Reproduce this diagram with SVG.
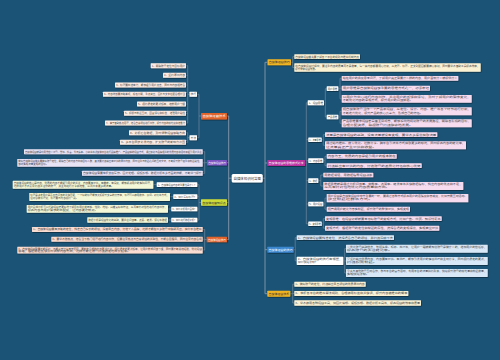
<svg xmlns="http://www.w3.org/2000/svg" width="500" height="360" viewBox="0 0 500 360">
<defs>
<filter id="sh" x="-10%" y="-30%" width="120%" height="180%"><feDropShadow dx="0.5" dy="0.7" stdDeviation="0.35" flood-color="#000" flood-opacity="0.5"/></filter>
</defs>
<style>
text{font-family:"Noto Sans CJK SC","Noto Sans",sans-serif;}
.lf{font-size:2.3px;fill:#444;}
.bt{font-size:2.8px;fill:#fff;}
.bd{font-size:2.8px;fill:#333;}
rect{filter:url(#sh);}
.w{fill:#fff;}
.o{fill:#fcebe2;}
.p{fill:#e8e2f5;}
.g{fill:#f5f8d7;}
.r{fill:#fbdcd0;}
.y{fill:#fbf1d3;}
.m{fill:#f7dbee;}
.b{fill:#d9e8f6;}
.tr{fill:none;stroke:#7d92a5;stroke-width:1;}
.cn{fill:none;stroke:#7d92a5;stroke-width:0.6;}
</style>
<rect x="0" y="0" width="500" height="360" fill="#1b5376" style="filter:none"/>

<g id="connectors">
<path class="tr" d="M231.7,178.2 H228.7 M228.7,116 V239.5 M228.7,116 H227 M228.7,162.7 H227 M228.7,202.5 H227 M228.7,239.5 H227"/>
<path class="tr" d="M262.7,178.2 H265 M265,62.3 V293.7 M265,62.3 H267.3 M265,163 H267.3 M265,249.7 H267.3 M265,293.7 H267.3"/>
<path class="cn" d="M201,116 H199 M199,94.3 V137.7 M199,94.3 H197 M199,137.7 H197"/>
<path class="cn" d="M189.5,94.3 H187.7 M187.7,65.7 V123 M187.7,65.7 H186 M187.7,75.3 H186 M187.7,85 H186 M187.7,104 H186 M187.7,113.3 H186 M187.7,123 H186"/>
<path class="cn" d="M189.5,137.7 H187.7 M187.7,132.7 V142.3 H186 M187.7,132.7 H186"/>
<path class="cn" d="M207,162.7 H204.7 M204.7,151.7 V173.3 H202.7 M204.7,151.7 H202.7 M204.7,162.8 H202.7"/>
<path class="cn" d="M201,202.5 H199 M199,184.6 V220 M199,184.6 H197.3 M199,196.7 H197.3 M199,209 H197.3 M199,220 H197.3"/>
<path class="cn" d="M156.7,184.6 H153.3 M173.3,196.7 H170 M171.3,209 H168 M171.3,220 H168"/>
<path class="cn" d="M206.7,239.5 H204.7 M204.7,229.5 V250 M204.7,229.5 H202.7 M204.7,239.2 H202.7 M204.7,250 H202.7"/>
<path class="cn" d="M291,62.3 H292.7 M292.7,56.7 V67.5 M292.7,56.7 H294.3 M292.7,67.5 H294.3"/>
<path class="cn" d="M305,163 H306.3 M306.3,102.8 V223.8 M306.3,102.8 H307.7 M306.3,139.7 H308.3 M306.3,160.7 H308.3 M306.3,180.7 H308.3 M306.3,204 H308.3 M306.3,223.8 H308.3"/>
<path class="cn" d="M324,102.8 H325.3 M325.3,88.7 V117 M325.3,88.7 H326.7 M325.3,117 H326.7"/>
<path class="cn" d="M338.3,88.7 H340 M340,78.3 V98.8 M340,78.3 H341.7 M340,88.2 H341.7 M340,98.8 H341.7"/>
<path class="cn" d="M338.3,117 H340 M340,111.3 V123.3 M340,111.3 H341.7 M340,123.3 H341.7"/>
<path class="cn" d="M321.7,139.7 H323.3 M323.3,134.7 V145.3 H325 M323.3,134.7 H325"/>
<path class="cn" d="M323.3,160.7 H325 M325,156.3 V165.7 H326.7 M325,156.3 H326.7"/>
<path class="cn" d="M318.3,180.7 H320.8 M320.8,175 V186 H323.3 M320.8,175 H323.3"/>
<path class="cn" d="M323.3,204 H325 M325,198 V209.2 H326.7 M325,198 H326.7"/>
<path class="cn" d="M321.7,223.8 H323.3 M323.3,218.7 V228.2 H325 M323.3,218.7 H325"/>
<path class="cn" d="M293.7,249.7 H295.2 M295.2,237.7 V260.8 M295.2,237.7 H296.7 M295.2,260.8 H296.7"/>
<path class="cn" d="M343.3,260.8 H344.7 M344.7,248.7 V273 M344.7,248.7 H346 M344.7,261 H346 M344.7,273 H346"/>
<path class="cn" d="M290.3,293.7 H292.7 M292.7,284.2 V303 M292.7,284.2 H294.3 M292.7,293.5 H294.3 M292.7,303 H294.3"/>
</g>

<g id="center">
<rect x="231.7" y="174" width="31" height="8.5" rx="1.5" fill="#fff"/>
<text x="233.5" y="179.6" style="font-size:3.2px;fill:#333" textLength="27.4" lengthAdjust="spacingAndGlyphs">自媒体知识问答图</text>
</g>

<!-- LEFT: orange top -->
<g id="L1">
<rect x="201" y="113" width="26" height="6.4" rx="0.6" fill="#e2632b"/>
<text class="bt" x="202.5" y="117.2" textLength="23" lengthAdjust="spacingAndGlyphs">自媒体运营技术</text>
</g>
<g id="L1a"><rect class="w" x="189.5" y="91.8" width="7.5" height="5" rx="0.4"/><text class="lf" x="190.5" y="95.1" textLength="5.5" lengthAdjust="spacingAndGlyphs">技巧</text></g>
<g id="L1b"><rect class="w" x="189.5" y="135.2" width="7.5" height="5" rx="0.4"/><text class="lf" x="190.5" y="138.5" textLength="5.5" lengthAdjust="spacingAndGlyphs">方法</text></g>
<g id="L1a1"><rect class="o" x="150.7" y="63.2" width="35.3" height="5" rx="0.4"/><text class="lf" x="151.7" y="66.5" textLength="33.3" lengthAdjust="spacingAndGlyphs">1、明确账号定位与目标用户</text></g>
<g id="L1a2"><rect class="o" x="163" y="72.8" width="23" height="5" rx="0.4"/><text class="lf" x="164" y="76.1" textLength="21" lengthAdjust="spacingAndGlyphs">2、坚持原创内容</text></g>
<g id="L1a3"><rect class="o" x="115" y="82.5" width="71" height="5" rx="0.4"/><text class="lf" x="116" y="85.8" textLength="69" lengthAdjust="spacingAndGlyphs">3、标题要简洁有力，能够吸引用户点击，同时与内容相符合</text></g>
<g id="L1a4"><rect class="o" x="103" y="91.8" width="83" height="5" rx="0.4"/><text class="lf" x="104" y="95.1" textLength="81" lengthAdjust="spacingAndGlyphs">4、内容排版要清晰美观，段落分明，重点突出，图片与文字搭配合理得当</text></g>
<g id="L1a5"><rect class="o" x="137" y="101.5" width="49" height="5" rx="0.4"/><text class="lf" x="138" y="104.8" textLength="47" lengthAdjust="spacingAndGlyphs">5、保持稳定的更新频率，培养用户习惯</text></g>
<g id="L1a6"><rect class="o" x="124" y="110.8" width="62" height="5" rx="0.4"/><text class="lf" x="125" y="114.1" textLength="60" lengthAdjust="spacingAndGlyphs">6、积极与粉丝互动，回复评论和私信，增强用户粘性</text></g>
<g id="L1a7"><rect class="o" x="105" y="120.5" width="81" height="5" rx="0.4"/><text class="lf" x="106" y="123.8" textLength="79" lengthAdjust="spacingAndGlyphs">7、善于借助热点话题，结合自身领域进行创作，提升内容的曝光度和传播力</text></g>
<g id="L1b1"><rect class="o" x="129" y="130.2" width="57" height="5" rx="0.4"/><text class="lf" x="130" y="133.5" textLength="55" lengthAdjust="spacingAndGlyphs">8、分析后台数据，及时调整运营策略方向</text></g>
<g id="L1b2"><rect class="o" x="120" y="139.8" width="66" height="5" rx="0.4"/><text class="lf" x="121" y="143.1" textLength="64" lengthAdjust="spacingAndGlyphs">9、多平台同步分发内容，扩大账号的影响力范围</text></g>

<!-- LEFT: purple -->
<g id="P">
<rect x="207" y="160" width="20" height="5.5" rx="0.6" fill="#7b52c1"/>
<text class="bt" x="208.2" y="163.7" style="font-size:2.5px" textLength="17.6" lengthAdjust="spacingAndGlyphs">自媒体运营技巧</text>
</g>
<g id="P1"><rect class="p" x="24" y="149.2" width="178.7" height="5" rx="0.4"/><text class="lf" x="25" y="152.5" textLength="176.7" lengthAdjust="spacingAndGlyphs">自媒体运营就是利用微信公众号、微博、抖音、今日头条、小红书等新媒体平台进行品牌推广、产品营销的运营方式，通过策划与品牌相关的优质内容和活动来吸引用户关注</text></g>
<g id="P2"><rect class="p" x="17.3" y="159" width="185.4" height="7.7" rx="0.4"/><text class="lf" x="18.3" y="162.1" textLength="183.4" lengthAdjust="spacingAndGlyphs">做好自媒体运营首先要做好账号定位，明确自己的内容方向和目标人群，其次要持续输出有价值的原创内容，同时注重与粉丝之间的互动交流，不断提升账号权重和粉丝粘性，</text><text class="lf" x="18.3" y="165.2" textLength="30" lengthAdjust="spacingAndGlyphs">最终实现流量变现的目标。</text></g>
<g id="P3"><rect class="p" x="82" y="170.8" width="120.7" height="5" rx="0.4"/><text class="lf" x="83" y="174.1" textLength="118.7" lengthAdjust="spacingAndGlyphs">自媒体运营需要掌握文案写作、图片处理、视频剪辑、数据分析等多方面的技能，不断学习提升</text></g>

<!-- LEFT: lime -->
<g id="G">
<rect x="201" y="199.3" width="26" height="6.4" rx="0.6" fill="#cddc39"/>
<text class="bd" x="202.3" y="203.5" textLength="23.4" lengthAdjust="spacingAndGlyphs">自媒体运营知识点</text>
</g>
<g id="Ga"><rect class="w" x="156.7" y="182.3" width="40.6" height="4.7" rx="0.4"/><text class="lf" x="157.7" y="185.5" textLength="38.6" lengthAdjust="spacingAndGlyphs">1、自媒体运营内容的重要性是什么？</text></g>
<g id="Gb"><rect class="w" x="173.3" y="194.3" width="24" height="4.7" rx="0.4"/><text class="lf" x="174.3" y="197.5" textLength="22" lengthAdjust="spacingAndGlyphs">2、如何写好标题？</text></g>
<g id="Gc"><rect class="w" x="171.3" y="206.7" width="26" height="4.6" rx="0.4"/><text class="lf" x="172.3" y="209.9" textLength="24" lengthAdjust="spacingAndGlyphs">3、如何分析用户画像？</text></g>
<g id="Gd"><rect class="w" x="171.3" y="217.7" width="26" height="4.6" rx="0.4"/><text class="lf" x="172.3" y="220.9" textLength="24" lengthAdjust="spacingAndGlyphs">4、如何进行数据分析？</text></g>
<g id="Ga1"><rect class="g" x="12.7" y="180.7" width="140.6" height="8" rx="0.4"/><text class="lf" x="13.7" y="183.8" textLength="138.6" lengthAdjust="spacingAndGlyphs">自媒体运营的核心是内容，优质的内容才能吸引用户的关注，内容要有价值、有趣味、有深度，能够解决用户的实际问题，</text><text class="lf" x="13.7" y="186.9" textLength="100" lengthAdjust="spacingAndGlyphs">这样用户才会愿意持续关注你的账号，并主动进行分享和传播，从而带来更多的流量。</text></g>
<g id="Gb1"><rect class="g" x="29.3" y="193" width="140.7" height="8" rx="0.4"/><text class="lf" x="30.3" y="196.1" textLength="138.7" lengthAdjust="spacingAndGlyphs">标题是决定用户是否点击阅读的关键因素，一个好的标题能够大幅提升文章的打开率，标题可以使用数字、疑问、对比等方式，</text><text class="lf" x="30.3" y="199.2" textLength="48" lengthAdjust="spacingAndGlyphs">但切忌做标题党，标题要与内容保持一致。</text></g>
<g id="Gc1"><rect class="g" x="26.7" y="205" width="141.3" height="7.7" rx="0.4"/><text class="lf" x="27.7" y="208.1" textLength="139.3" lengthAdjust="spacingAndGlyphs">用户画像分析可以帮助运营者更好地了解目标用户的年龄、性别、地域、兴趣爱好等特征，从而有针对性地进行内容创作，</text><text class="lf" x="27.7" y="211.2" textLength="70" lengthAdjust="spacingAndGlyphs">提高内容与用户需求的匹配度，让内容更受欢迎。</text></g>
<g id="Gd1"><rect class="g" x="87.3" y="217.3" width="80.7" height="5.4" rx="0.4"/><text class="lf" x="88.3" y="220.8" textLength="78.7" lengthAdjust="spacingAndGlyphs">数据分析是运营优化的基础，要关注阅读量、点赞、转发、评论等数据</text></g>

<!-- LEFT: orange-red -->
<g id="R">
<rect x="206.7" y="236.7" width="20.3" height="5.6" rx="0.6" fill="#e2632b"/>
<text class="bt" x="207.9" y="240.5" style="font-size:2.5px" textLength="17.9" lengthAdjust="spacingAndGlyphs">自媒体运营技巧</text>
</g>
<g id="R1"><rect class="r" x="32" y="227" width="170.7" height="5" rx="0.4"/><text class="lf" x="33" y="230.3" textLength="168.7" lengthAdjust="spacingAndGlyphs">1、自媒体运营要有清晰的定位，找准自己擅长的领域，深耕垂直内容，打造个人品牌，这样才能在众多账号中脱颖而出，获得平台推荐</text></g>
<g id="R2"><rect class="r" x="51.3" y="236.7" width="151.4" height="5" rx="0.4"/><text class="lf" x="52.3" y="240" textLength="149.4" lengthAdjust="spacingAndGlyphs">2、要学会蹭热点，结合当下热门话题进行内容创作，但要注意热点与自身领域的关联性，不能盲目跟风，同时注意内容合规</text></g>
<g id="R3"><rect class="r" x="17.3" y="246.7" width="185.4" height="6.8" rx="0.4"/><text class="lf" x="18.3" y="249.5" textLength="183.4" lengthAdjust="spacingAndGlyphs">3、自媒体运营需要长期坚持，不能三天打鱼两天晒网，要制定合理的内容更新计划，保持稳定的更新频率，让用户养成阅读习惯，同时要不断总结经验，优化运营</text><text class="lf" x="18.3" y="252.4" textLength="112" lengthAdjust="spacingAndGlyphs">策略，根据数据反馈及时调整内容方向，这样才能让账号持续稳定地成长起来。</text></g>

<!-- RIGHT: top yellow -->
<g id="Y1">
<rect x="267.5" y="59.3" width="23.5" height="6" rx="0.6" fill="#f0b323"/>
<text class="bd" x="268.8" y="63.3" style="font-size:2.6px" textLength="20.9" lengthAdjust="spacingAndGlyphs">自媒体运营技巧</text>
</g>
<g id="Y1a"><rect class="y" x="294.3" y="54.3" width="65.7" height="4.7" rx="0.4"/><text class="lf" x="295.3" y="57.5" textLength="63.7" lengthAdjust="spacingAndGlyphs">自媒体运营首先要了解各个平台的规则与推荐机制特点</text></g>
<g id="Y1b"><rect class="y" x="294.3" y="63.3" width="186.4" height="8.4" rx="0.4"/><text class="lf" x="295.3" y="66.5" textLength="184.4" lengthAdjust="spacingAndGlyphs">在自媒体运营过程中，要注重内容的质量而不是数量，每一篇内容都要用心打磨，从选题、标题、正文到配图都要精心策划，同时要学会借助工具提高效率，</text><text class="lf" x="295.3" y="69.7" textLength="22" lengthAdjust="spacingAndGlyphs">提升整体运营效果。</text></g>

<!-- RIGHT: magenta -->
<g id="M">
<rect x="267.3" y="160" width="37.7" height="6" rx="0.6" fill="#b8329e"/>
<text class="bt" x="268.6" y="164" style="font-size:2.6px" textLength="35.1" lengthAdjust="spacingAndGlyphs">自媒体运营的思维模式分享</text>
</g>
<g id="M1"><rect class="w" x="307.7" y="100.3" width="16.3" height="5" rx="0.4"/><text class="lf" x="308.7" y="103.6" textLength="14.3" lengthAdjust="spacingAndGlyphs">1、运营思维</text></g>
<g id="M1a"><rect class="w" x="326.7" y="86.3" width="11.6" height="4.7" rx="0.4"/><text class="lf" x="327.7" y="89.5" textLength="9.6" lengthAdjust="spacingAndGlyphs">用户思维</text></g>
<g id="M1b"><rect class="w" x="326.7" y="114.7" width="11.6" height="4.6" rx="0.4"/><text class="lf" x="327.7" y="117.9" textLength="9.6" lengthAdjust="spacingAndGlyphs">产品思维</text></g>
<g id="M1a1"><rect class="m" x="341.7" y="76" width="116.6" height="4.7" rx="0.4"/><text class="lf" x="342.7" y="79.2" textLength="114.6" lengthAdjust="spacingAndGlyphs">站在用户的角度思考问题，了解用户真正需要什么样的内容，用户喜欢什么就提供什么</text></g>
<g id="M1a2"><rect class="m" x="341.7" y="85.7" width="88.3" height="5" rx="0.4"/><text class="lf" x="342.7" y="89" textLength="86.3" lengthAdjust="spacingAndGlyphs">用户思维是自媒体运营最重要的思维方式之一，必须牢记</text></g>
<g id="M1a3"><rect class="m" x="341.7" y="95" width="130" height="7.7" rx="0.4"/><text class="lf" x="342.7" y="98.1" textLength="128" lengthAdjust="spacingAndGlyphs">以用户为中心进行内容创作，关注用户的反馈和评论，及时了解用户的需求变化，</text><text class="lf" x="342.7" y="101.2" textLength="70" lengthAdjust="spacingAndGlyphs">不断优化内容的呈现方式，提升用户的阅读体验。</text></g>
<g id="M1b1"><rect class="m" x="341.7" y="107.3" width="130" height="8" rx="0.4"/><text class="lf" x="342.7" y="110.4" textLength="128" lengthAdjust="spacingAndGlyphs">把自媒体账号当作一个产品来运营，从定位、设计、内容、推广等各个环节进行打磨，</text><text class="lf" x="342.7" y="113.5" textLength="80" lengthAdjust="spacingAndGlyphs">不断迭代优化，提升产品的核心竞争力，形成自己的特色。</text></g>
<g id="M1b2"><rect class="m" x="341.7" y="119.3" width="130" height="8" rx="0.4"/><text class="lf" x="342.7" y="122.4" textLength="128" lengthAdjust="spacingAndGlyphs">产品思维要求运营者具备全局观念，能够系统地规划账号的发展路径，明确各阶段的目标，</text><text class="lf" x="342.7" y="125.5" textLength="70" lengthAdjust="spacingAndGlyphs">合理分配资源，确保账号持续健康地发展。</text></g>
<g id="M2"><rect class="w" x="308.3" y="137.5" width="13.4" height="4.5" rx="0.4"/><text class="lf" x="309.3" y="140.6" textLength="11.4" lengthAdjust="spacingAndGlyphs">2、流量思维</text></g>
<g id="M2a"><rect class="m" x="325" y="132.3" width="112.3" height="4.7" rx="0.4"/><text class="lf" x="326" y="135.5" textLength="110.3" lengthAdjust="spacingAndGlyphs">流量是自媒体运营的基础，没有流量就没有变现，要学会多渠道获取流量</text></g>
<g id="M2b"><rect class="m" x="325" y="141.3" width="141" height="8" rx="0.4"/><text class="lf" x="326" y="144.4" textLength="139" lengthAdjust="spacingAndGlyphs">通过站内推荐、搜索优化、社群分享、跨平台引流等方式获取更多的曝光，同时提高内容的转化率，</text><text class="lf" x="326" y="147.5" textLength="50" lengthAdjust="spacingAndGlyphs">让流量真正产生价值和收益。</text></g>
<g id="M3"><rect class="w" x="308.3" y="158.3" width="15" height="4.7" rx="0.4"/><text class="lf" x="309.3" y="161.5" textLength="13" lengthAdjust="spacingAndGlyphs">3、内容思维</text></g>
<g id="M3a"><rect class="m" x="326.7" y="154" width="70" height="4.7" rx="0.4"/><text class="lf" x="327.7" y="157.2" textLength="68" lengthAdjust="spacingAndGlyphs">内容为王，优质的内容是吸引用户的根本所在</text></g>
<g id="M3b"><rect class="m" x="326.7" y="163.3" width="95" height="4.7" rx="0.4"/><text class="lf" x="327.7" y="166.5" textLength="93" lengthAdjust="spacingAndGlyphs">持续输出有价值的内容，打造账号的差异化特色和核心优势</text></g>
<g id="M4"><rect class="w" x="308.3" y="178.3" width="10" height="4.7" rx="0.4"/><text class="lf" x="309.3" y="181.5" textLength="8" lengthAdjust="spacingAndGlyphs">4、数据</text></g>
<g id="M4a"><rect class="m" x="323.3" y="172.7" width="50" height="4.6" rx="0.4"/><text class="lf" x="324.3" y="175.9" textLength="48" lengthAdjust="spacingAndGlyphs">用数据说话，用数据指导运营决策</text></g>
<g id="M4b"><rect class="m" x="323.3" y="182" width="140" height="8" rx="0.4"/><text class="lf" x="324.3" y="185.1" textLength="138" lengthAdjust="spacingAndGlyphs">数据思维就是通过分析阅读量、完播率、点赞率、转发率等关键数据指标，找出内容的优点和不足，</text><text class="lf" x="324.3" y="188.2" textLength="65" lengthAdjust="spacingAndGlyphs">从而有针对性地优化内容质量和方向。</text></g>
<g id="M5"><rect class="w" x="308.3" y="201.7" width="15" height="4.6" rx="0.4"/><text class="lf" x="309.3" y="204.9" textLength="13" lengthAdjust="spacingAndGlyphs">5、用户运营</text></g>
<g id="M5a"><rect class="m" x="326.7" y="194" width="141.6" height="8.3" rx="0.4"/><text class="lf" x="327.7" y="197.2" textLength="139.6" lengthAdjust="spacingAndGlyphs">用户运营是自媒体运营中非常重要的一环，要通过各种方式提高用户的活跃度和忠诚度，比如开展互动活动、</text><text class="lf" x="327.7" y="200.4" textLength="45" lengthAdjust="spacingAndGlyphs">建立粉丝社群等方式。</text></g>
<g id="M5b"><rect class="m" x="326.7" y="206.7" width="83.3" height="5" rx="0.4"/><text class="lf" x="327.7" y="210" textLength="81.3" lengthAdjust="spacingAndGlyphs">把普通用户转化为忠实粉丝，提升账号的整体价值，实现变现</text></g>
<g id="M6"><rect class="w" x="308.3" y="221.5" width="13.4" height="4.6" rx="0.4"/><text class="lf" x="309.3" y="224.7" textLength="11.4" lengthAdjust="spacingAndGlyphs">6、变现思维</text></g>
<g id="M6a"><rect class="m" x="325" y="216.3" width="116.7" height="4.7" rx="0.4"/><text class="lf" x="326" y="219.5" textLength="114.7" lengthAdjust="spacingAndGlyphs">变现思维：在运营初期就要考虑好账号的变现方式，比如广告、带货、知识付费等</text></g>
<g id="M6b"><rect class="m" x="325" y="225.7" width="114.3" height="5" rx="0.4"/><text class="lf" x="326" y="229" textLength="112.3" lengthAdjust="spacingAndGlyphs">变现方式：根据账号的定位和粉丝的属性，选择合适的变现渠道，实现商业价值</text></g>

<!-- RIGHT: blue -->
<g id="B">
<rect x="267.3" y="246.7" width="26.4" height="6" rx="0.6" fill="#3a87cf"/>
<text class="bt" x="268.6" y="250.7" style="font-size:2.6px" textLength="23.8" lengthAdjust="spacingAndGlyphs">自媒体运营的技巧</text>
</g>
<g id="B1"><rect class="b" x="296.7" y="235.3" width="97.3" height="4.7" rx="0.4"/><text class="lf" x="297.7" y="238.5" textLength="95.3" lengthAdjust="spacingAndGlyphs">1、自媒体运营要找准定位，选择适合自己的领域，并持续深耕下去</text></g>
<g id="B2"><rect class="w" x="296.7" y="256.7" width="46.6" height="8.3" rx="0.4"/><text class="lf" x="297.7" y="259.8" textLength="44.6" lengthAdjust="spacingAndGlyphs">2、自媒体运营的技巧有哪些，</text><text class="lf" x="297.7" y="263" textLength="20" lengthAdjust="spacingAndGlyphs">如何快速涨粉？</text></g>
<g id="B2a"><rect class="b" x="346" y="244.7" width="141.7" height="8" rx="0.4"/><text class="lf" x="347" y="247.8" textLength="139.7" lengthAdjust="spacingAndGlyphs">①优化账号基础信息，包括头像、昵称、简介等，让用户一眼就能知道账号是做什么的，增加用户的信任感，</text><text class="lf" x="347" y="250.9" textLength="45" lengthAdjust="spacingAndGlyphs">提高账号的关注转化率。</text></g>
<g id="B2b"><rect class="b" x="346" y="257" width="141.7" height="8" rx="0.4"/><text class="lf" x="347" y="260.1" textLength="139.7" lengthAdjust="spacingAndGlyphs">②坚持输出优质内容，内容要有价值、有共鸣，能够引发用户的情感共鸣和主动分享，同时保持稳定的更新，</text><text class="lf" x="347" y="263.2" textLength="30" lengthAdjust="spacingAndGlyphs">持续积累粉丝。</text></g>
<g id="B2c"><rect class="b" x="346" y="269" width="141.7" height="8" rx="0.4"/><text class="lf" x="347" y="272.1" textLength="139.7" lengthAdjust="spacingAndGlyphs">③多与其他账号互动合作，参与平台的官方活动，利用平台的流量扶持政策，快速提升账号的曝光量和粉丝数量，</text><text class="lf" x="347" y="275.2" textLength="22" lengthAdjust="spacingAndGlyphs">实现快速涨粉。</text></g>

<!-- RIGHT: bottom yellow -->
<g id="Y2">
<rect x="267.3" y="290.7" width="23" height="6" rx="0.6" fill="#f0b323"/>
<text class="bd" x="268.6" y="294.7" style="font-size:2.6px" textLength="20.4" lengthAdjust="spacingAndGlyphs">自媒体运营技术</text>
</g>
<g id="Y2a"><rect class="y" x="294.3" y="281.7" width="71.4" height="5" rx="0.4"/><text class="lf" x="295.3" y="285" textLength="69.4" lengthAdjust="spacingAndGlyphs">1、做好账号的定位，持续输出垂直领域的优质原创内容</text></g>
<g id="Y2b"><rect class="y" x="294.3" y="291" width="114" height="5" rx="0.4"/><text class="lf" x="295.3" y="294.3" textLength="112" lengthAdjust="spacingAndGlyphs">2、掌握各平台的推荐算法规则，合理使用标签和关键词，提升内容被推荐的概率</text></g>
<g id="Y2c"><rect class="y" x="294.3" y="300.3" width="126.7" height="5.4" rx="0.4"/><text class="lf" x="295.3" y="303.8" textLength="124.7" lengthAdjust="spacingAndGlyphs">3、学会使用各种运营工具，如图片编辑、视频剪辑、数据分析工具等，提高运营的效率和质量</text></g>
</svg>
